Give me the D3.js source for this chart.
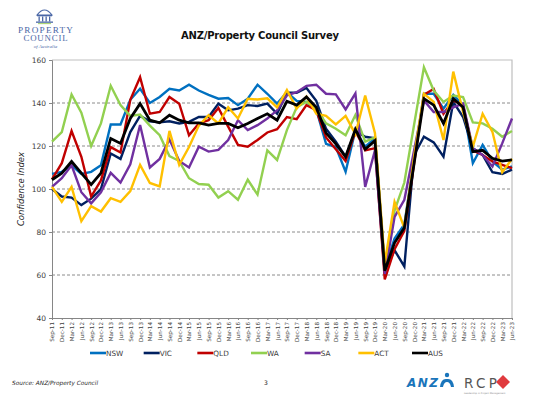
<!DOCTYPE html>
<html>
<head>
<meta charset="utf-8">
<title>ANZ/Property Council Survey</title>
<script src="https://d3js.org/d3.v7.min.js"></script>
<style>
  body { margin: 0; background: #fff; }
  svg { display: block; font-family: "DejaVu Sans", Verdana, sans-serif; }
</style>
</head>
<body>
<script>
// quarters, Sep-11 .. Jun-23
var quarters = ['Sep-11','Dec-11','Mar-12','Jun-12','Sep-12','Dec-12','Mar-13','Jun-13','Sep-13','Dec-13',
  'Mar-14','Jun-14','Sep-14','Dec-14','Mar-15','Jun-15','Sep-15','Dec-15','Mar-16','Jun-16',
  'Sep-16','Dec-16','Mar-17','Jun-17','Sep-17','Dec-17','Mar-18','Jun-18','Sep-18','Dec-18',
  'Mar-19','Jun-19','Sep-19','Dec-19','Mar-20','Jun-20','Sep-20','Dec-20','Mar-21','Jun-21',
  'Sep-21','Dec-21','Mar-22','Jun-22','Sep-22','Dec-22','Mar-23','Jun-23'];

var nsw = [107,108,111,107,108,111,130,130,141.5,146.6,140,142.8,146.6,145.8,148.5,145.8,143.8,142,142.3,139,
  142,148.5,144.3,139.7,145,141,140.5,137,121,119.5,108,127.4,119.7,123.6,63,77,83.5,114,144.3,144.3,
  137.4,143.8,139,112,120.5,112.8,109,110.5];
var vic = [100,96.5,96,92.5,95.5,100,116.5,114,126.5,134,131.5,131,131.5,130.5,131.2,133.5,133.5,139.7,136.6,137.4,
  139,138.6,139.7,135,144.8,144.8,147,141,128,122,115,127,124.3,123.6,62,71.5,64,115.8,124.3,121.7,
  115,140.5,133.5,119,115.8,107.8,107,109];
var qld = [104.5,112,127,115,96.5,104,119.5,117,141.5,152,135,135.8,142.8,139.7,125,130.5,132,137.7,129,120.5,
  119.7,122.8,126.3,127.8,133.5,132.5,139,136.6,124,118.5,113,127,118,119,58,72,80.5,112,143.8,146.5,
  135,141.2,139,118,115.8,112.8,111.2,109.7];
var wa = [122,126.5,144,135.5,120,130.5,148,139,134,134.6,129.5,125,115.3,113,105,102.3,102,96,99,95,
  104.3,97.4,118,113.5,127.4,138,140.5,137.4,130.5,128,125,134.4,122,124,63,90,103,130,156.6,145.8,
  140.5,143.5,142.8,131,130.5,128,124.3,127];
var sa = [101,105,111,98.5,93.3,98.5,107.5,103,111.5,129.8,110,114,123,113,110,119.7,117.4,118.2,122.8,132,
  127.4,129.7,132.8,136.6,143.5,145,148,148.5,144.3,144,137,144.5,101,118,60.5,87,95,118,141.2,135.8,
  135.8,138,139.7,119,115.8,110.5,121.2,132.8];
var act = [101,94,101,85,92,89.5,95.7,94,99,111.2,102.8,101.2,127,111.2,119.5,129.5,134.3,130.5,138,132.8,
  142,141.6,142.2,138,146,137.4,143,135,134,130,134,125.5,143.5,126,65.5,94,82,115,144.3,140.5,
  122.8,154.6,135.8,119.7,135,126.6,107.8,114];
var aus = [104.3,107.4,112.8,107.4,102,107.4,123.5,121.2,132.8,139.7,132,130.8,134.3,132,130.8,130.8,129.7,130.5,130.5,128.5,
  130.5,132.8,135,132,140.8,139,142.8,138,126,121,115,127.8,118.5,122.5,62,75,82,112,142,139,
  130.5,142,138,117.4,118,114.3,113,113.5];

var seriesNames = ['NSW','VIC','QLD','WA','SA','ACT','AUS'];
var yTicks = [40,60,80,100,120,140,160];

var series = [
  {name: 'NSW', values: nsw, color: '#0070C0', w: 2.4},
  {name: 'VIC', values: vic, color: '#002060', w: 2.4},
  {name: 'QLD', values: qld, color: '#C00000', w: 2.4},
  {name: 'WA',  values: wa,  color: '#92D050', w: 2.4},
  {name: 'SA',  values: sa,  color: '#7030A0', w: 2.4},
  {name: 'ACT', values: act, color: '#FFC000', w: 2.4},
  {name: 'AUS', values: aus, color: '#000000', w: 2.8}
];

var W = 539, H = 399;
var plotL = 52, plotR = 512, plotT = 60, plotB = 318;

var svg = d3.select('body').append('svg')
  .attr('width', W).attr('height', H);

var x = d3.scalePoint().domain(quarters).range([plotL, plotR]);
var y = d3.scaleLinear().domain([40, 160]).range([plotB, plotT]);

// --- header: logo + title
var logo = svg.append('g').attr('fill', '#4a67a6');
logo.append('path')
  .attr('d', 'M37,15 Q44.5,5 52,15 Z')
  .attr('fill', 'none').attr('stroke', '#4a67a6').attr('stroke-width', 1.2);
logo.append('rect').attr('x', 37).attr('y', 15).attr('width', 15).attr('height', 1.3);
[39, 42.5, 46, 49.5].forEach(function(cx) {
  logo.append('rect').attr('x', cx - 0.5).attr('y', 16.5).attr('width', 1.3).attr('height', 5);
});
logo.append('rect').attr('x', 36).attr('y', 21.5).attr('width', 17).attr('height', 1.3);
logo.append('rect').attr('x', 38).attr('y', 23.3).attr('width', 13).attr('height', 0.8).attr('fill', '#8dc63f');
logo.append('text').attr('x', 45.5).attr('y', 32.5).attr('text-anchor', 'middle')
  .attr('font-family', '"Liberation Serif", serif').attr('font-size', 9.2)
  .attr('textLength', 55).text('PROPERTY');
logo.append('text').attr('x', 45.5).attr('y', 41).attr('text-anchor', 'middle')
  .attr('font-family', '"Liberation Serif", serif').attr('font-size', 8.8)
  .attr('textLength', 44).text('COUNCIL');
logo.append('text').attr('x', 45.5).attr('y', 47.8).attr('text-anchor', 'middle')
  .attr('font-family', '"Liberation Serif", serif').attr('font-size', 5).attr('font-style', 'italic')
  .text('of Australia');

svg.append('text')
  .attr('x', 260).attr('y', 39).attr('text-anchor', 'middle')
  .attr('font-size', 10).attr('font-weight', 'bold').attr('fill', '#111')
  .attr('textLength', 158)
  .text('ANZ/Property Council Survey');

// --- grid
svg.append('g').selectAll('line')
  .data(yTicks.filter(function(d) { return d > 40 && d < 160; }))
  .enter().append('line')
  .attr('x1', plotL).attr('x2', plotR)
  .attr('y1', function(d) { return y(d); }).attr('y2', function(d) { return y(d); })
  .attr('stroke', '#7f7f7f').attr('stroke-width', 0.9).attr('stroke-dasharray', '3,2');

// frame top + right
svg.append('path')
  .attr('d', 'M' + plotL + ',' + y(160) + 'H' + plotR + 'V' + plotB)
  .attr('fill', 'none').attr('stroke', '#bfbfbf').attr('stroke-width', 1.2);

// --- axes
var yAxis = svg.append('g')
  .attr('transform', 'translate(' + plotL + ',0)')
  .call(d3.axisLeft(y).tickValues(yTicks).tickSize(3).tickPadding(3));
yAxis.select('.domain').attr('stroke', '#868686');
yAxis.selectAll('.tick line').attr('stroke', '#868686');
yAxis.selectAll('text').attr('font-size', 7.5).attr('fill', '#404040')
  .attr('font-family', '"DejaVu Sans", sans-serif');

var xAxis = svg.append('g')
  .attr('transform', 'translate(0,' + plotB + ')')
  .call(d3.axisBottom(x).tickSize(2).tickSizeOuter(0));
xAxis.select('.domain').attr('stroke', '#868686');
xAxis.selectAll('.tick line').attr('stroke', '#868686');
xAxis.selectAll('text')
  .attr('font-size', 5.6).attr('fill', '#404040')
  .attr('font-family', '"DejaVu Sans", sans-serif')
  .attr('transform', 'rotate(-90)')
  .attr('text-anchor', 'end')
  .attr('x', -4).attr('y', 0).attr('dy', '0.35em');

svg.append('text')
  .attr('transform', 'translate(24,' + ((plotT + plotB) / 2) + ') rotate(-90)')
  .attr('text-anchor', 'middle')
  .attr('font-size', 8.5).attr('font-style', 'italic').attr('fill', '#262626')
  .text('Confidence Index');

// --- lines
var line = d3.line()
  .x(function(d, i) { return x(quarters[i]); })
  .y(function(d) { return y(d); });

svg.append('g').selectAll('path')
  .data(series)
  .enter().append('path')
  .attr('d', function(s) { return line(s.values); })
  .attr('fill', 'none')
  .attr('stroke', function(s) { return s.color; })
  .attr('stroke-width', function(s) { return s.w; })
  .attr('stroke-linejoin', 'miter');

// --- legend
var legendX = d3.scalePoint().domain(seriesNames).range([90, 412]);
var lg = svg.append('g').selectAll('g')
  .data(series)
  .enter().append('g')
  .attr('transform', function(s) { return 'translate(' + legendX(s.name) + ',353)'; });
lg.append('line').attr('x1', 0).attr('x2', 16).attr('y1', 0).attr('y2', 0)
  .attr('stroke', function(s) { return s.color; }).attr('stroke-width', 2.6);
lg.append('text').attr('x', 16).attr('y', 2.6)
  .attr('font-size', 7.3).attr('fill', '#404040')
  .text(function(s) { return s.name; });

// --- footer
svg.append('text')
  .attr('x', 12).attr('y', 385)
  .attr('font-size', 5.8).attr('font-style', 'italic').attr('fill', '#262626')
  .text('Source: ANZ/Property Council');
svg.append('text')
  .attr('x', 264).attr('y', 385)
  .attr('font-size', 6).attr('fill', '#262626')
  .text('3');

// ANZ mark
svg.append('text')
  .attr('x', 407).attr('y', 387)
  .attr('font-family', '"DejaVu Sans", sans-serif')
  .attr('font-size', 12).attr('font-weight', 'bold').attr('font-style', 'italic')
  .attr('fill', '#1a75bb').attr('textLength', 31)
  .text('ANZ');
var anzIcon = svg.append('g').attr('fill', '#1a75bb');
anzIcon.append('circle').attr('cx', 447).attr('cy', 375).attr('r', 2.2);
anzIcon.append('path').attr('d', 'M440,387 Q441,378 447,379 Q453,378 454,387 L451,387 Q450,382 447,382 Q444,382 443,387 Z');

// RCP mark
svg.append('text')
  .attr('x', 464).attr('y', 388)
  .attr('font-family', '"DejaVu Sans", sans-serif')
  .attr('font-size', 13.5).attr('fill', '#555')
  .attr('textLength', 33)
  .text('RCP');
svg.append('path')
  .attr('d', 'M503,375 L510,382 L503,389 L496,382 Z')
  .attr('fill', '#e03a3e');
svg.append('text')
  .attr('x', 464).attr('y', 393.5)
  .attr('font-size', 2.4).attr('fill', '#888')
  .text('Leadership in Project Management');
</script>
</body>
</html>
